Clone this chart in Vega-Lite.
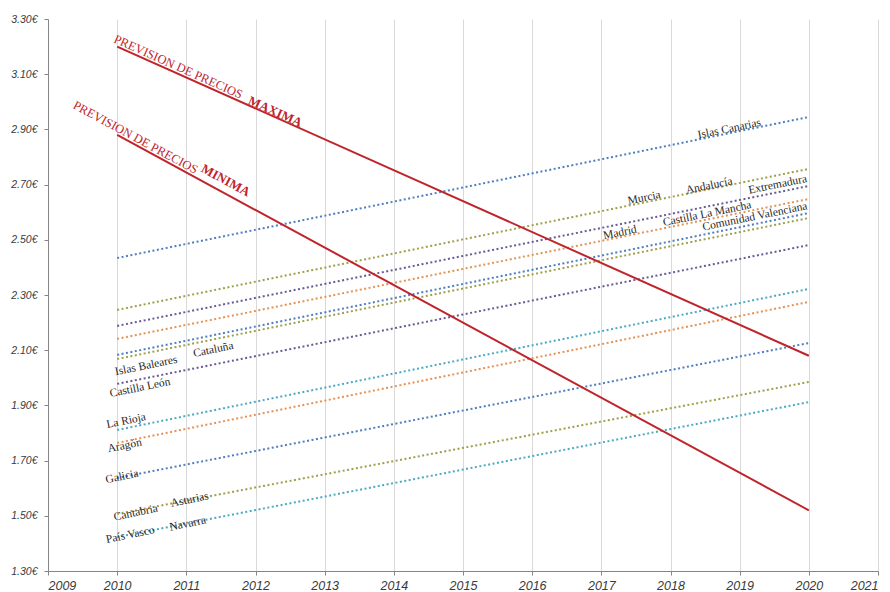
{
  "$schema": "https://vega.github.io/schema/vega-lite/v6.json",
  "width": 830,
  "height": 552,
  "autosize": {"type": "none"},
  "padding": {"left": 48, "top": 19, "right": 12, "bottom": 21},
  "background": "white",
  "config": {"view": {"stroke": null}},
  "datasets": {
    "regiones": [
      {"serie": "Islas Canarias", "year": 2010, "price": 2.434}, {"serie": "Islas Canarias", "year": 2020, "price": 2.945},
      {"serie": "Murcia / Andalucía", "year": 2010, "price": 2.246}, {"serie": "Murcia / Andalucía", "year": 2020, "price": 2.757},
      {"serie": "Extremadura", "year": 2010, "price": 2.188}, {"serie": "Extremadura", "year": 2020, "price": 2.695},
      {"serie": "Madrid", "year": 2010, "price": 2.141}, {"serie": "Madrid", "year": 2020, "price": 2.648},
      {"serie": "Castilla La Mancha", "year": 2010, "price": 2.083}, {"serie": "Castilla La Mancha", "year": 2020, "price": 2.597},
      {"serie": "Comunidad Valenciana / Islas Baleares", "year": 2010, "price": 2.068}, {"serie": "Comunidad Valenciana / Islas Baleares", "year": 2020, "price": 2.579},
      {"serie": "Castilla León / Cataluña", "year": 2010, "price": 1.978}, {"serie": "Castilla León / Cataluña", "year": 2020, "price": 2.481},
      {"serie": "La Rioja", "year": 2010, "price": 1.811}, {"serie": "La Rioja", "year": 2020, "price": 2.322},
      {"serie": "Aragón", "year": 2010, "price": 1.764}, {"serie": "Aragón", "year": 2020, "price": 2.275},
      {"serie": "Galicia", "year": 2010, "price": 1.637}, {"serie": "Galicia", "year": 2020, "price": 2.126},
      {"serie": "Cantabria / Asturias", "year": 2010, "price": 1.507}, {"serie": "Cantabria / Asturias", "year": 2020, "price": 1.985},
      {"serie": "País Vasco / Navarra", "year": 2010, "price": 1.423}, {"serie": "País Vasco / Navarra", "year": 2020, "price": 1.912}
    ],
    "prevision": [
      {"serie": "Máxima", "year": 2010, "price": 3.2}, {"serie": "Máxima", "year": 2020, "price": 2.08},
      {"serie": "Mínima", "year": 2010, "price": 2.88}, {"serie": "Mínima", "year": 2020, "price": 1.52}
    ],
    "etiquetas": [
      {"texto": "Islas Canarias", "year": 2018.85, "price": 2.901},
      {"texto": "Murcia", "year": 2017.62, "price": 2.651},
      {"texto": "Andalucía", "year": 2018.56, "price": 2.695},
      {"texto": "Extremadura", "year": 2019.55, "price": 2.699},
      {"texto": "Castilla La Mancha", "year": 2018.53, "price": 2.593},
      {"texto": "Comunidad Valenciana", "year": 2019.22, "price": 2.583},
      {"texto": "Madrid", "year": 2017.27, "price": 2.525},
      {"texto": "Islas Baleares", "year": 2010.42, "price": 2.043},
      {"texto": "Cataluña", "year": 2011.39, "price": 2.101},
      {"texto": "Castilla León", "year": 2010.33, "price": 1.963},
      {"texto": "La Rioja", "year": 2010.13, "price": 1.843},
      {"texto": "Aragón", "year": 2010.11, "price": 1.753},
      {"texto": "Galicia", "year": 2010.07, "price": 1.641},
      {"texto": "Cantabria", "year": 2010.27, "price": 1.51},
      {"texto": "Asturias", "year": 2011.05, "price": 1.557},
      {"texto": "País Vasco", "year": 2010.19, "price": 1.43},
      {"texto": "Navarra", "year": 2011.02, "price": 1.47}
    ],
    "titulos": [
      {"serie": "Máxima", "texto": "PREVISION DE PRECIOS", "year": 2009.94, "price": 3.217},
      {"serie": "Máxima", "texto": "MAXIMA", "year": 2011.88, "price": 2.993},
      {"serie": "Mínima", "texto": "PREVISION DE PRECIOS", "year": 2009.35, "price": 2.978},
      {"serie": "Mínima", "texto": "MINIMA", "year": 2011.2, "price": 2.748}
    ]
  },
  "encoding": {
    "x": {
      "field": "year", "type": "quantitative",
      "scale": {"domain": [2009, 2021], "nice": false, "zero": false},
      "axis": {
        "title": null, "values": [2009, 2010, 2011, 2012, 2013, 2014, 2015, 2016, 2017, 2018, 2019, 2020, 2021],
        "format": "d", "grid": true, "gridColor": "#D9D9D9", "gridWidth": 1,
        "domainColor": "#868686", "tickColor": "#868686", "tickSize": 4,
        "labelFont": "Liberation Sans", "labelFontStyle": "italic", "labelFontSize": 12.5, "labelColor": "#3A3A3A",
        "labelPadding": 4
      }
    },
    "y": {
      "field": "price", "type": "quantitative",
      "scale": {"domain": [1.3, 3.3], "nice": false, "zero": false},
      "axis": {
        "title": null, "values": [1.3, 1.5, 1.7, 1.9, 2.1, 2.3, 2.5, 2.7, 2.9, 3.1, 3.3],
        "labelExpr": "format(datum.value, '.2f') + '€'", "grid": false,
        "domainColor": "#868686", "tickColor": "#868686", "tickSize": 4,
        "labelFont": "Liberation Sans", "labelFontStyle": "italic", "labelFontSize": 10.5, "labelColor": "#3A3A3A",
        "labelPadding": 7
      }
    }
  },
  "layer": [
    {
      "data": {"name": "regiones"},
      "mark": {"type": "line", "strokeWidth": 2, "strokeDash": [2, 2.5], "strokeCap": "butt"},
      "encoding": {
        "color": {
          "field": "serie", "type": "nominal", "legend": null,
          "scale": {
            "domain": ["Islas Canarias", "Murcia / Andalucía", "Extremadura", "Madrid", "Castilla La Mancha", "Comunidad Valenciana / Islas Baleares", "Castilla León / Cataluña", "La Rioja", "Aragón", "Galicia", "Cantabria / Asturias", "País Vasco / Navarra"],
            "range": ["#4F7FBF", "#A09F4A", "#6A5A96", "#E39356", "#4F7FBF", "#A09F4A", "#6A5A96", "#4BAAC4", "#E39356", "#4F7FBF", "#A09F4A", "#4BAAC4"]
          }
        },
        "detail": {"field": "serie"}
      }
    },
    {
      "data": {"name": "prevision"},
      "mark": {"type": "line", "strokeWidth": 2, "color": "#C0242B"},
      "encoding": {"detail": {"field": "serie"}}
    },
    {
      "data": {"name": "etiquetas"},
      "mark": {"type": "text", "angle": -11.5, "align": "center", "baseline": "middle", "font": "Liberation Serif", "fontSize": 11.5, "color": "#262626"},
      "encoding": {"text": {"field": "texto"}}
    },
    {
      "data": {"name": "titulos"},
      "transform": [{"filter": "datum.serie == 'Máxima' && datum.texto == 'PREVISION DE PRECIOS'"}],
      "mark": {"type": "text", "angle": 24.1, "align": "left", "baseline": "alphabetic", "font": "Liberation Serif", "fontSize": 12.5, "color": "#C0242B"},
      "encoding": {"text": {"field": "texto"}}
    },
    {
      "data": {"name": "titulos"},
      "transform": [{"filter": "datum.serie == 'Máxima' && datum.texto != 'PREVISION DE PRECIOS'"}],
      "mark": {"type": "text", "angle": 24.1, "align": "left", "baseline": "alphabetic", "font": "Liberation Serif", "fontSize": 13, "fontWeight": "bold", "color": "#C0242B"},
      "encoding": {"text": {"field": "texto"}}
    },
    {
      "data": {"name": "titulos"},
      "transform": [{"filter": "datum.serie == 'Mínima' && datum.texto == 'PREVISION DE PRECIOS'"}],
      "mark": {"type": "text", "angle": 28.3, "align": "left", "baseline": "alphabetic", "font": "Liberation Serif", "fontSize": 12.5, "color": "#C0242B"},
      "encoding": {"text": {"field": "texto"}}
    },
    {
      "data": {"name": "titulos"},
      "transform": [{"filter": "datum.serie == 'Mínima' && datum.texto != 'PREVISION DE PRECIOS'"}],
      "mark": {"type": "text", "angle": 28.3, "align": "left", "baseline": "alphabetic", "font": "Liberation Serif", "fontSize": 13, "fontWeight": "bold", "color": "#C0242B"},
      "encoding": {"text": {"field": "texto"}}
    }
  ]
}
